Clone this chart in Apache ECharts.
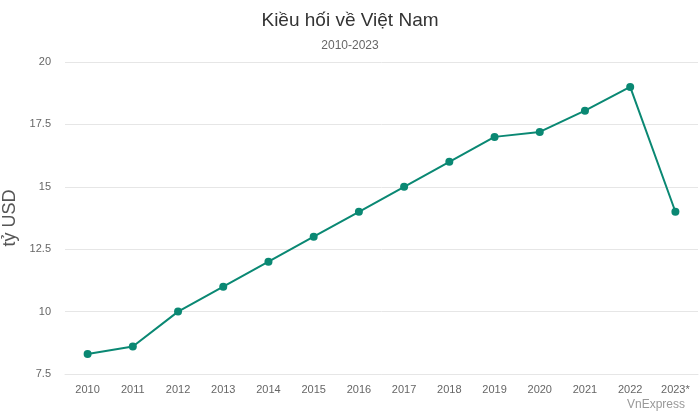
<!DOCTYPE html>
<html><head><meta charset="utf-8">
<script src="https://cdn.jsdelivr.net/npm/echarts@6/dist/echarts.min.js"></script>
<style>html,body{margin:0;padding:0;background:#fff}#c{width:700px;height:412px}</style>
</head><body><div id="c"></div>
<script>
var years = ['2010','2011','2012','2013','2014','2015','2016','2017','2018','2019','2020','2021','2022','2023*'];
var remittance = [8.3, 8.6, 10, 11, 12, 13, 14, 15, 16, 17, 17.2, 18.05, 19, 14];
var chart = echarts.init(document.getElementById('c'));
chart.setOption({
  animation: false,
  backgroundColor: '#fff',
  title: [
    {text: 'Kiều hối về Việt Nam', left: 'center', top: 6,
     textStyle: {fontFamily: 'Liberation Sans, Arial', fontSize: 19, fontWeight: 'normal', color: '#333'}},
    {text: '2010-2023', left: 'center', top: 35,
     textStyle: {fontFamily: 'Liberation Sans, Arial', fontSize: 12, fontWeight: 'normal', color: '#666'}},
    {text: 'VnExpress', right: 10, top: 394,
     textStyle: {fontFamily: 'Liberation Sans, Arial', fontSize: 12, fontWeight: 'normal', color: '#999'}}
  ],
  grid: {left: 65, right: 2, top: 62, bottom: 38, containLabel: false, outerBoundsMode: 'none'},
  xAxis: {
    type: 'category', data: years, boundaryGap: true,
    axisLine: {lineStyle: {color: '#e6e6e6'}},
    axisTick: {show: false},
    axisLabel: {color: '#666', fontSize: 11, fontFamily: 'Liberation Sans, Arial', margin: 10}
  },
  yAxis: {
    type: 'value', min: 7.5, max: 20, interval: 2.5,
    name: 'tỷ USD', nameLocation: 'middle', nameGap: 43, nameRotate: 90,
    nameTextStyle: {color: '#555', fontSize: 18, fontFamily: 'Liberation Sans, Arial'},
    axisLine: {show: false}, axisTick: {show: false},
    axisLabel: {color: '#666', fontSize: 11, fontFamily: 'Liberation Sans, Arial', margin: 14},
    splitLine: {lineStyle: {color: '#e6e6e6'}}
  },
  series: [{
    type: 'line', data: remittance,
    symbol: 'circle', symbolSize: 8,
    lineStyle: {color: '#0a8873', width: 2},
    itemStyle: {color: '#0a8873'}
  }]
});
</script></body></html>
